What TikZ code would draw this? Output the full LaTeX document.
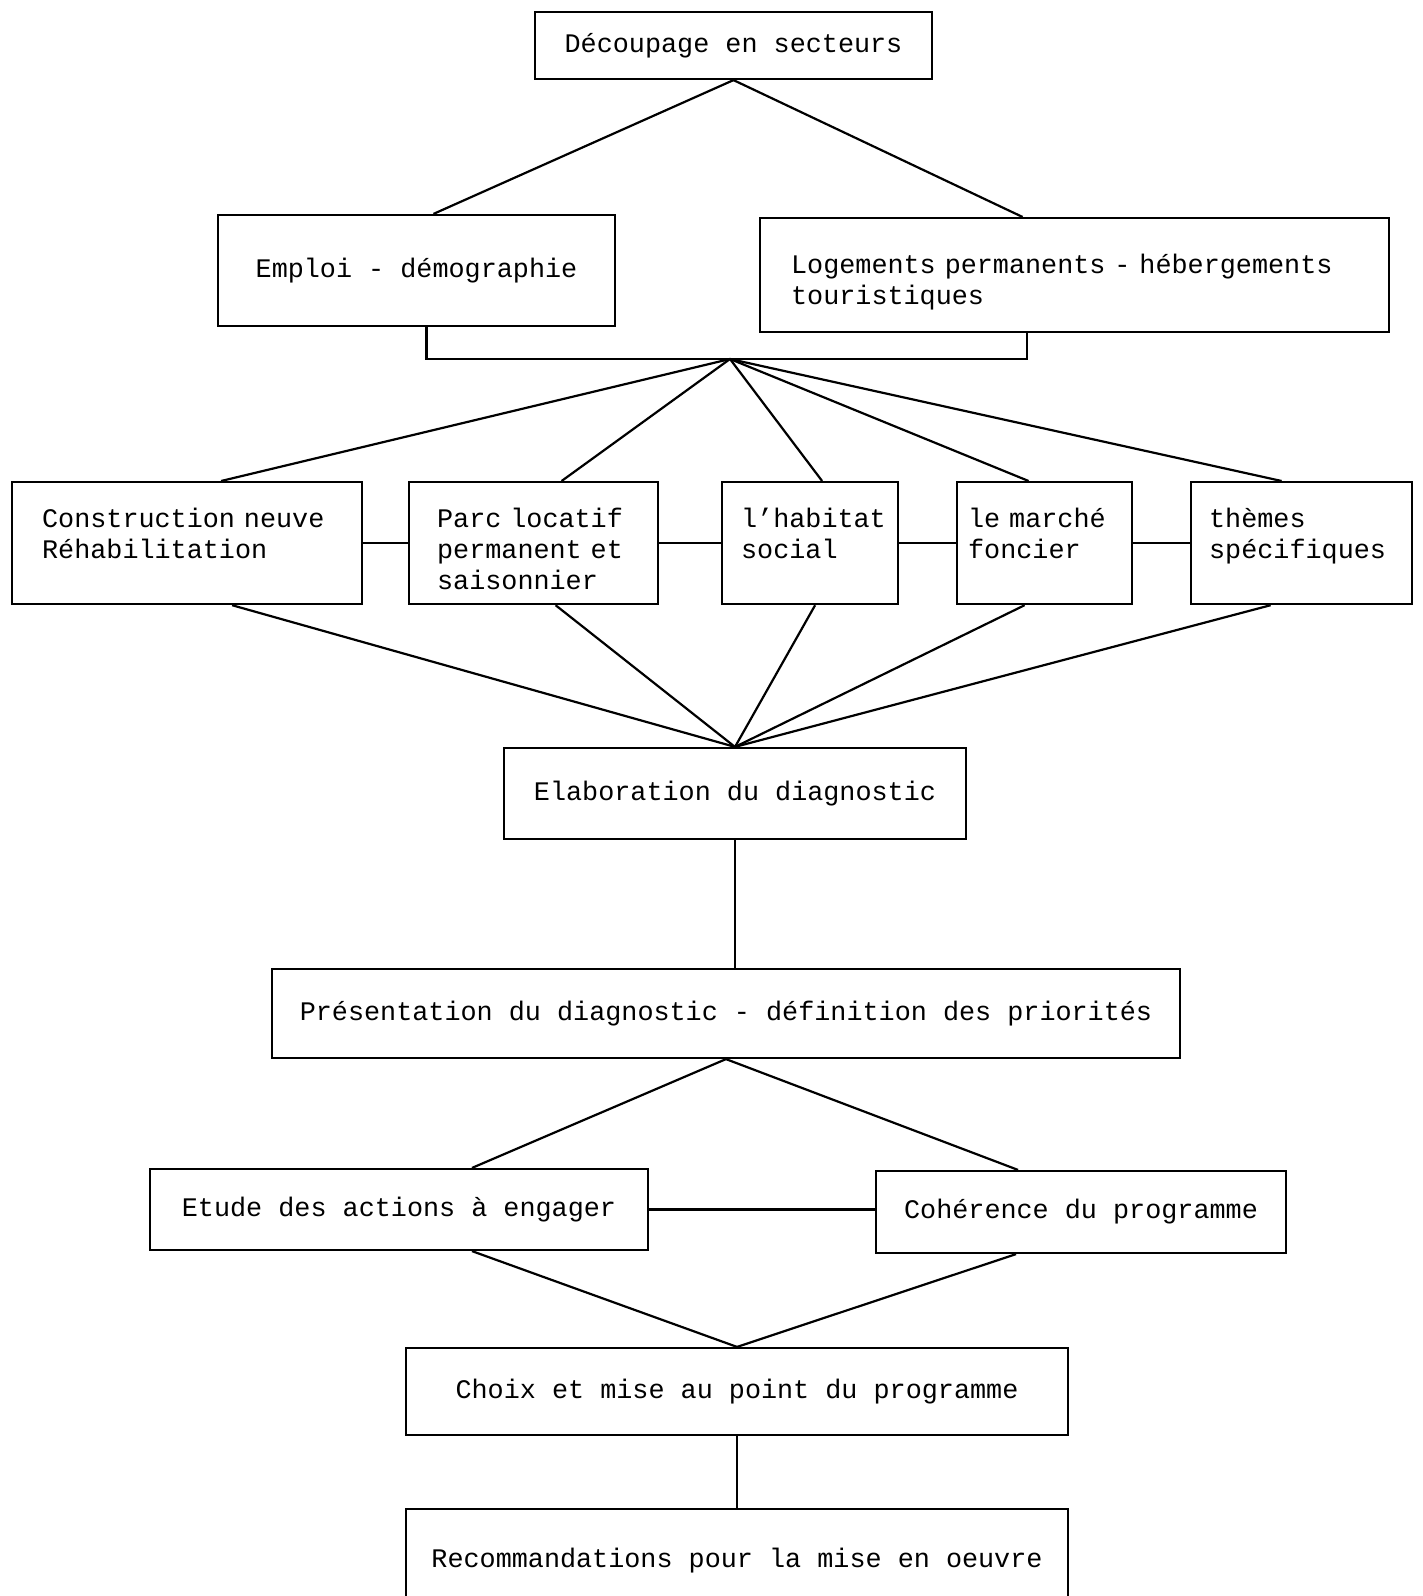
\documentclass[tikz,border=0pt]{standalone}
\usepackage{fontspec}
\setmonofont{Liberation Mono}

% typewriter text with fixed word spaces
\newcommand{\boxfont}{\ttfamily\fontsize{26.8}{31}\selectfont\spaceskip=16.08pt plus 0pt minus 0pt\relax}

\tikzset{
    box/.style={draw, line width=2.2pt, inner sep=0pt, font=\boxfont},
    rowbox/.style={box, anchor=north west, align=left, text height=45pt, text depth=77pt},
    link/.style={line width=2.2pt}
}

\begin{document}
\begin{tikzpicture}[x=1pt, y=-1pt]
    \useasboundingbox (0,0) rectangle (1423,1596);

    % Top boxes
    \node[box, minimum width=397pt, minimum height=67pt] (decoupage) at (733.5,45.5) {Découpage en secteurs};
    \node[box, minimum width=397pt, minimum height=111pt] (emploi) at (416.5,270.5) {Emploi - démographie};
    \node[box, anchor=north west, align=left, text width=567pt, inner xsep=31pt, text height=55pt, text depth=59pt] (logements) at (759,217) {Logements permanents - hébergements\\touristiques};

    % Row of themes
    \node[rowbox, text width=290pt, inner xsep=30pt] (construction) at (11,481) {Construction neuve\\Réhabilitation};
    \node[rowbox, text width=193pt, inner xsep=28pt] (parc) at (408,481) {Parc locatif\\permanent et\\saisonnier};
    \node[rowbox, text width=138pt, inner xsep=19pt] (habitat) at (721,481) {l’habitat\\social};
    \node[rowbox, text width=153pt, inner xsep=11pt] (marche) at (956,481) {le marché\\foncier};
    \node[rowbox, text width=185pt, inner xsep=18pt] (themes) at (1190,481) {thèmes\\spécifiques};

    % Lower boxes
    \node[box, minimum width=462pt, minimum height=91pt] (elaboration) at (735,793.5) {Elaboration du diagnostic};
    \node[box, minimum width=908pt, minimum height=89pt] (presentation) at (726,1013.5) {Présentation du diagnostic - définition des priorités};
    \node[box, minimum width=498pt, minimum height=81pt] (etude) at (399,1209.5) {Etude des actions à engager};
    \node[box, minimum width=410pt, minimum height=82pt] (coherence) at (1081,1212) {Cohérence du programme};
    \node[box, minimum width=662pt, minimum height=87pt] (choix) at (737,1391.5) {Choix et mise au point du programme};
    \node[box, minimum width=662pt, minimum height=103pt] (recommandations) at (737,1560.5) {Recommandations pour la mise en oeuvre};

    % Links at the top
    \coordinate (join) at (730,359);
    \draw[link] (decoupage.south) -- ([xshift=17pt]emploi.north);
    \draw[link] (decoupage.south) -- ([xshift=-52pt]logements.north);
    \draw[link] ([xshift=10pt]emploi.south) |- (join) -| ([xshift=-48pt]logements.south);

    % Links to and from the row
    \foreach \n/\dx in {construction/34, parc/28, habitat/12, marche/-16, themes/-20}
        \draw[link] (join) -- ([xshift=\dx pt]\n.north);
    \draw[link] (construction) -- (parc) -- (habitat) -- (marche) -- (themes);
    \foreach \n/\dx in {construction/45, parc/22, habitat/5, marche/-20, themes/-31}
        \draw[link] ([xshift=\dx pt]\n.south) -- (elaboration.north);

    % Links at the bottom
    \draw[link] (elaboration.south) -- (elaboration.south |- presentation.north);
    \draw[link] (presentation.south) -- ([xshift=73pt]etude.north);
    \draw[link] (presentation.south) -- ([xshift=-63pt]coherence.north);
    \draw[link] (etude.east) -- (etude.east -| coherence.west);
    \draw[link] ([xshift=73pt]etude.south) -- (choix.north);
    \draw[link] ([xshift=-65pt]coherence.south) -- (choix.north);
    \draw[link] (choix.south) -- (choix.south |- recommandations.north);
\end{tikzpicture}
\end{document}
